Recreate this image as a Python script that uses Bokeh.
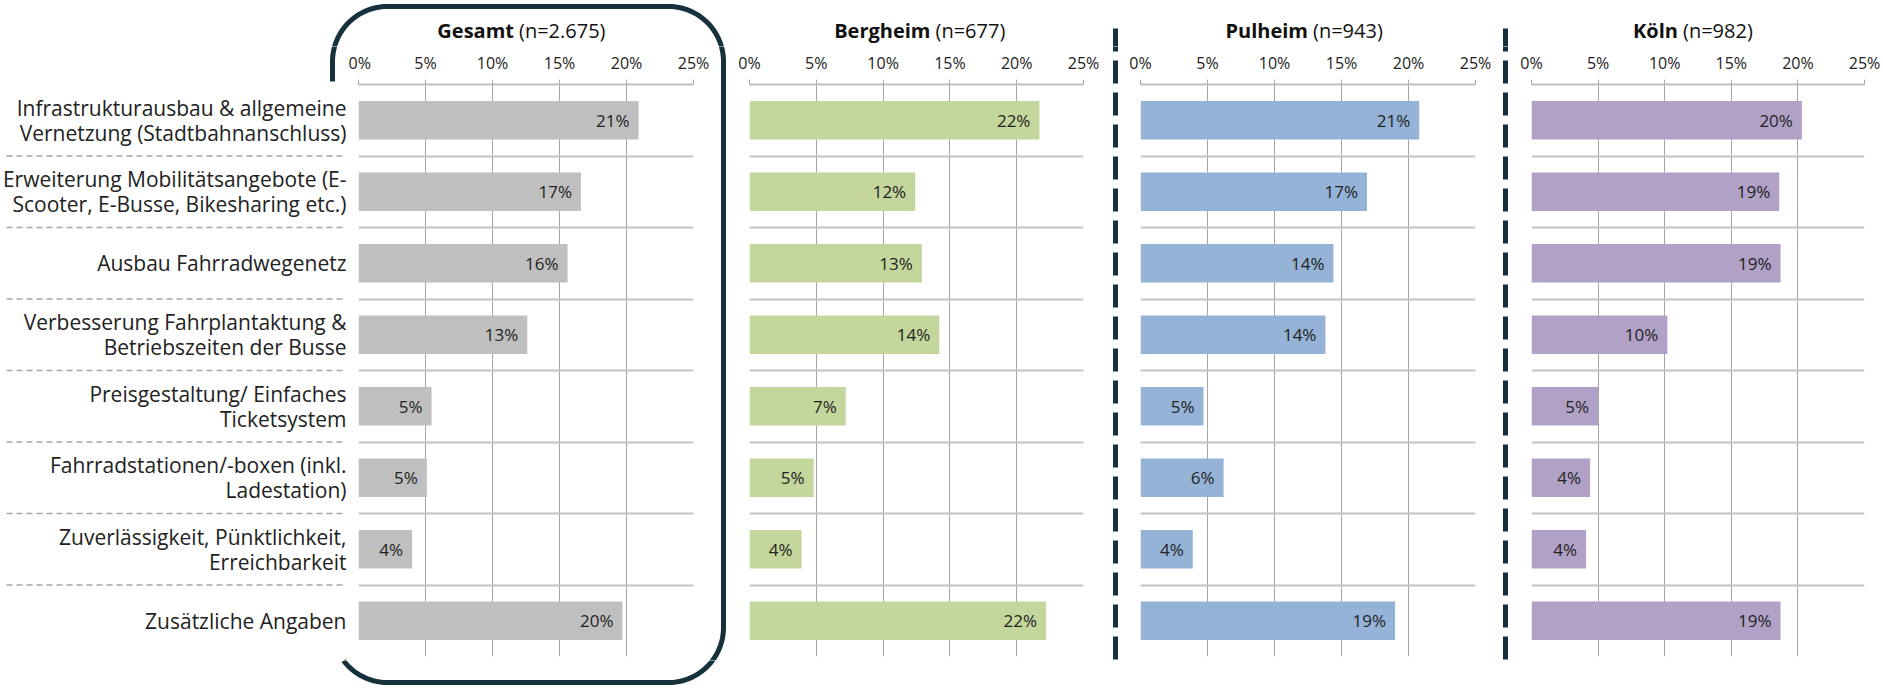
import numpy as np
from bokeh.plotting import figure
from bokeh.models import Range1d, FixedTicker, PrintfTickFormatter, Grid
from bokeh.layouts import row, column
from bokeh.core.properties import value
from bokeh.embed import file_html
from bokeh.resources import INLINE

# ---------------- data ----------------
categories = [
    "Infrastrukturausbau & allgemeine\nVernetzung (Stadtbahnanschluss)",
    "Erweiterung Mobilitätsangebote (E-\nScooter, E-Busse, Bikesharing etc.)",
    "Ausbau Fahrradwegenetz",
    "Verbesserung Fahrplantaktung &\nBetriebszeiten der Busse",
    "Preisgestaltung/ Einfaches\nTicketsystem",
    "Fahrradstationen/-boxen (inkl.\nLadestation)",
    "Zuverlässigkeit, Pünktlichkeit,\nErreichbarkeit",
    "Zusätzliche Angaben",
]
gesamt = [20.9, 16.6, 15.6, 12.6, 5.45, 5.1, 4.0, 19.7]
bergheim = [21.7, 12.4, 12.9, 14.2, 7.2, 4.8, 3.9, 22.2]
pulheim = [20.8, 16.9, 14.4, 13.8, 4.7, 6.2, 3.9, 19.0]
koeln = [20.3, 18.6, 18.7, 10.2, 5.0, 4.4, 4.1, 18.7]
panel_names = ["Gesamt", "Bergheim", "Pulheim", "Köln"]
panel_n = ["(n=2.675)", "(n=677)", "(n=943)", "(n=982)"]
x_ticks = [0, 5, 10, 15, 20, 25]

# ---------------- styling / layout ----------------
colors = ["#BFBFBF", "#C3D69B", "#95B3D7", "#B2A1C7"]
FONT = "Open Sans"
TXT = "#222222"
DARK = "#15313B"
HP = 688                      # page height reference for page-pixel helpers
W = 1882
HEAD = 46                     # header strip height
MAIN_TOP, MAIN_BOT = 46, 660  # main row vertical extent (page px)
FOOT = 27
FR_TOP, FR_BOT = 84, 656      # plot frames (page px)
TITLE_Y = 30
n = len(categories)
ROW = (FR_BOT - FR_TOP) / n
ypos = [n - i - 0.5 for i in range(n)]
boundaries = list(range(1, n))

# page-x layout of the panels: (canvas start, left border, frame width, right border)
LAB_W = 348
STRIP1 = (709, 737)
SPACERS = [(1102, 1128), (1492, 1518)]
DASH_X = [1115, 1505]
panel_geo = [(348, 10, 335, 16), (737, 12, 334, 19), (1128, 12, 335, 17), (1518, 13, 333, 18)]
split_off = [-12, 14, 0, -20]

# rounded frame around "Gesamt" (page px)
BL, BR, BT, BB, RAD = 332, 723, 6, 682, 55


def box_path():
    def arc(cx, cy, a0, a1):
        a = np.radians(np.linspace(a0, a1, 30))
        return list(cx + RAD * np.cos(a)), list(cy + RAD * np.sin(a))
    xs, ys = [BL], [81]
    for cx, cy, a0, a1 in [(BL + RAD, BT + RAD, 180, 270), (BR - RAD, BT + RAD, 270, 360),
                           (BR - RAD, BB - RAD, 0, 90), (BL + RAD, BB - RAD, 90, 143)]:
        ax_, ay_ = arc(cx, cy, a0, a1)
        xs += ax_
        ys += ay_
    return xs, [HP - y for y in ys]


BOX_X, BOX_Y = box_path()


def decorate(p, y_range_name="default"):
    p.line(BOX_X, BOX_Y, line_color=DARK, line_width=5, line_join="round",
           y_range_name=y_range_name)
    for dx in DASH_X:
        p.segment(x0=dx, y0=HP - 28, x1=dx, y1=HP - 660, line_color=DARK, line_width=5,
                  line_dash="23 9", y_range_name=y_range_name)


def helper(x0, x1, y0, y1):
    p = figure(width=x1 - x0, height=y1 - y0, x_range=Range1d(x0, x1),
               y_range=Range1d(HP - y1, HP - y0),
               x_axis_location=None, y_axis_location=None,
               output_backend="svg", toolbar_location=None, frame_align=False,
               min_border_left=0, min_border_right=0, min_border_top=0, min_border_bottom=0)
    p.outline_line_color = None
    p.xgrid.visible = False
    p.ygrid.visible = False
    return p


# ---------- header with titles ----------
header = helper(0, W, 0, HEAD)
decorate(header)
for (c0, bl, fw, br), off, name, nlab in zip(panel_geo, split_off, panel_names, panel_n):
    sx = c0 + bl + fw / 2 + off
    header.text(x=[sx], y=[HP - TITLE_Y], text=[name], text_align="right",
                text_baseline="middle", text_font=value(FONT), text_font_size="20px",
                text_font_style="bold", text_color="#111111")
    header.text(x=[sx + 5], y=[HP - TITLE_Y], text=[nlab], text_align="left",
                text_baseline="middle", text_font=value(FONT), text_font_size="20px",
                text_color="#111111")

# ---------- footer ----------
footer = helper(0, W, MAIN_BOT, MAIN_BOT + FOOT)
decorate(footer)

# ---------- category label column ----------
lab = figure(width=LAB_W, height=MAIN_BOT - MAIN_TOP, x_range=Range1d(0, LAB_W),
             y_range=Range1d(-(MAIN_BOT - FR_BOT) / ROW, (FR_BOT - MAIN_TOP) / ROW),
             x_axis_location=None, y_axis_location=None,
             output_backend="svg", toolbar_location=None, frame_align=False,
             min_border_left=0, min_border_right=0, min_border_top=0, min_border_bottom=0)
lab.outline_line_color = None
lab.xgrid.visible = False
lab.ygrid.visible = False
lab.extra_y_ranges = {"page": Range1d(HP - MAIN_BOT, HP - MAIN_TOP)}
decorate(lab, "page")
lab.segment(x0=6, y0=boundaries, x1=LAB_W - 2, y1=boundaries, line_color="#A6A6A6",
            line_width=1.5, line_dash="6 4")
lab.text(x=LAB_W - 2, y=ypos, text=categories, text_align="right", text_baseline="middle",
         text_font=value(FONT), text_font_size="21px", text_line_height=0.9,
         text_color=TXT)


def panel(vals, color, geo):
    c0, bl, fw, br = geo
    p = figure(width=bl + fw + br, height=MAIN_BOT - MAIN_TOP,
               x_range=Range1d(0, 25), y_range=Range1d(0, n),
               x_axis_location="above", y_axis_location=None,
               output_backend="svg", toolbar_location=None, frame_align=False,
               min_border_left=bl, min_border_right=br,
               min_border_top=FR_TOP - MAIN_TOP, min_border_bottom=MAIN_BOT - FR_BOT)
    p.outline_line_color = None
    p.background_fill_color = "white"
    p.border_fill_color = "white"

    xt = FixedTicker(ticks=x_ticks)
    ax = p.xaxis[0]
    ax.ticker = xt
    ax.formatter = PrintfTickFormatter(format="%d%%")
    ax.axis_line_color = "#BFBFBF"
    ax.axis_line_width = 2
    ax.major_tick_line_color = "#A6A6A6"
    ax.major_tick_in = 0
    ax.major_tick_out = 5
    ax.minor_tick_line_color = None
    ax.major_label_standoff = 6
    ax.major_label_text_font = FONT
    ax.major_label_text_font_size = "16px"
    ax.major_label_text_color = TXT

    p.xgrid.ticker = xt
    p.xgrid.grid_line_color = "#A6A6A6"
    p.xgrid.grid_line_width = 1
    p.ygrid.visible = False
    p.add_layout(Grid(dimension=1, ticker=FixedTicker(ticks=list(range(n + 1))),
                      grid_line_color="#C3C3C3", grid_line_width=2))

    p.hbar(y=ypos, left=0, right=vals, height=0.54, fill_color=color, line_color=None)
    labels = [f"{round(v)}%" for v in vals]
    p.text(x=vals, y=ypos, text=labels, text_align="right", text_baseline="middle",
           x_offset=-9, text_font=value(FONT), text_font_size="17px", text_color=TXT)
    return p


series = [gesamt, bergheim, pulheim, koeln]
panels = [panel(v, c, g) for v, c, g in zip(series, colors, panel_geo)]

strip = helper(STRIP1[0], STRIP1[1], MAIN_TOP, MAIN_BOT)
decorate(strip)
sp = []
for a, b in SPACERS:
    s = helper(a, b, MAIN_TOP, MAIN_BOT)
    decorate(s)
    sp.append(s)

main = row(lab, panels[0], strip, panels[1], sp[0], panels[2], sp[1], panels[3])
layout = column(header, main, footer)
open("out.html", "w").write(file_html(layout, INLINE))
